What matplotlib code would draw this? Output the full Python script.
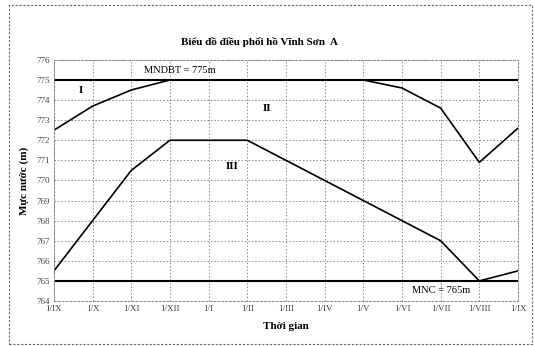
import matplotlib
matplotlib.use("Agg")
import matplotlib.pyplot as plt
from matplotlib.patches import Rectangle

months = ["1/IX", "1/X", "1/XI", "1/XII", "1/I", "1/II", "1/III", "1/IV",
          "1/V", "1/VI", "1/VII", "1/VIII", "1/IX"]
upper = [772.5, 773.7, 774.5, 775, 775, 775, 775, 775, 775, 774.6, 773.6, 770.9, 772.6]
lower = [765.5, 768, 770.5, 772, 772, 772, 771, 770, 769, 768, 767, 765, 765.5]
mndbt = 775
mnc = 765
yticks = list(range(764, 777))

plt.rcParams['font.family'] = ['Liberation Serif', 'DejaVu Serif']

fig = plt.figure(figsize=(5.34, 3.46), dpi=100)
ax = fig.add_axes([0.101, 0.130, 0.869, 0.697])
x = list(range(len(months)))

ax.plot(x, upper, color='black', lw=1.2)
ax.plot(x, lower, color='black', lw=1.2)
ax.axhline(mndbt, color='black', lw=1.5)
ax.axhline(mnc, color='black', lw=1.5)

ax.set_xlim(0, len(months) - 1)
ax.set_ylim(764, 776)
ax.set_xticks(x)
ax.set_xticklabels(months, fontsize=6.5)
ax.set_yticks(yticks)
ax.set_yticklabels([str(v) for v in yticks], fontsize=6.5)
ax.tick_params(length=0, pad=3, colors='#444444')
ax.grid(True, color='#888888', ls=(0, (1.5, 2)), lw=0.7)
for s in ax.spines.values():
    s.set_color('#888888')
    s.set_linestyle((0, (2, 2)))
    s.set_linewidth(0.7)

ax.text(3.25, 775.25, "MNDBT = 775m", fontsize=7.5, ha='center', va='bottom')
ax.text(10.0, 764.5, "MNC = 765m", fontsize=7.5, ha='center', va='center')
ax.text(0.7, 774.5, "I", fontsize=8, fontweight='bold', ha='center', va='center')
ax.text(5.5, 773.6, "II", fontsize=8, fontweight='bold', ha='center', va='center')
ax.text(4.6, 770.7, "III", fontsize=8, fontweight='bold', ha='center', va='center')

ax.set_xlabel("Thời gian", fontsize=8, fontweight='bold', labelpad=6)
ax.set_ylabel("Mực nước (m)", fontsize=8, fontweight='bold', labelpad=5)
fig.text(259/534, 1 - 42/346, "Biểu đồ điều phối hồ Vĩnh Sơn  A", fontsize=8,
         fontweight='bold', ha='center', va='center')

fig.patches.append(Rectangle((9/534, 1 - 344/346), 523/534, 339/346,
                             transform=fig.transFigure, fill=False,
                             edgecolor='#666666', lw=0.8, ls=(0, (2, 1.5))))

fig.savefig("out.png", dpi=100)
